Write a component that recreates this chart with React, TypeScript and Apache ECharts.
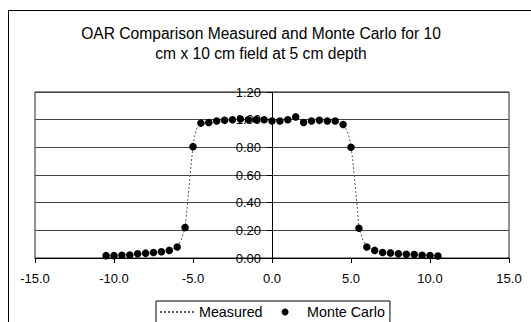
import React, { useEffect, useRef } from "react";
import * as echarts from "echarts";

const titleLines = [
  "OAR Comparison Measured and Monte Carlo for 10",
  "cm x 10 cm field at 5 cm depth",
];

const mcX = [
  -10.5, -10, -9.5, -9, -8.5, -8, -7.5, -7, -6.5, -6, -5.5, -5, -4.5, -4, -3.5, -3, -2.5, -2, -1.5, -1, -0.5,
  0, 0.5, 1, 1.5, 2, 2.5, 3, 3.5, 4, 4.5, 5, 5.5, 6, 6.5, 7, 7.5, 8, 8.5, 9, 9.5, 10, 10.5,
];
const mcY = [
  0.017, 0.017, 0.02, 0.022, 0.03, 0.035, 0.04, 0.045, 0.055, 0.08, 0.22, 0.805, 0.975, 0.98, 0.99, 0.995, 1.0, 1.005, 1.0, 1.0, 1.0,
  0.99, 0.99, 1.0, 1.02, 0.98, 0.99, 0.995, 0.99, 0.99, 0.965, 0.8, 0.215, 0.08, 0.055, 0.04, 0.037, 0.03, 0.027, 0.025, 0.02, 0.018, 0.015,
];

const measuredX = [
  -10.5, -10, -9.5, -9, -8.5, -8, -7.5, -7, -6.5, -6, -5.75, -5.5, -5.4, -5.3, -5.2, -5.1, -5.0, -4.9, -4.75, -4.5,
  -4, -3.5, -3, -2.5, -2, -1.5, -1, -0.5, 0, 0.5, 1, 1.5, 2, 2.5, 3, 3.5, 4,
  4.5, 4.75, 4.9, 5.0, 5.1, 5.2, 5.3, 5.4, 5.5, 5.75, 6, 6.5, 7, 7.5, 8, 8.5, 9, 9.5, 10, 10.5,
];
const measuredY = [
  0.015, 0.017, 0.02, 0.022, 0.028, 0.033, 0.04, 0.045, 0.055, 0.08, 0.13, 0.22, 0.33, 0.45, 0.58, 0.7, 0.8, 0.88, 0.94, 0.975,
  0.98, 0.99, 0.995, 1.0, 1.0, 1.0, 1.0, 1.0, 0.995, 0.99, 1.0, 1.01, 0.99, 0.99, 0.995, 0.99, 0.985,
  0.965, 0.92, 0.87, 0.8, 0.72, 0.6, 0.48, 0.36, 0.22, 0.13, 0.08, 0.055, 0.04, 0.037, 0.03, 0.027, 0.025, 0.02, 0.018, 0.015,
];

const seriesNames = ["Measured", "Monte Carlo"];

const FONT = "'Liberation Sans', Arial, sans-serif";

const GRID_LEFT = 35;
const GRID_RIGHT = 22;
const W = 531;

export default function App() {
  const ref = useRef<HTMLDivElement>(null);
  useEffect(() => {
    if (!ref.current) return;
    const chart = echarts.init(ref.current, undefined, { renderer: "svg" });
    const gridW = W - GRID_LEFT - GRID_RIGHT;
    chart.setOption({
      animation: false,
      backgroundColor: "#fff",
      textStyle: { fontFamily: FONT },
      title: {
        text: titleLines.join("\n"),
        left: 256,
        top: 18,
        textAlign: "center",
        textStyle: { fontSize: 15.6, fontWeight: "normal", color: "#000", lineHeight: 20, fontFamily: FONT },
      },
      graphic: [
        {
          type: "rect",
          shape: { x: 8.5, y: 10.5, width: 700, height: 500 },
          style: { fill: "none", stroke: "#000", lineWidth: 1 },
          silent: true,
          z: -1,
        },
      ],
      legend: {
        left: 156,
        top: 301,
        padding: [4, 5, 30, 3],
        itemGap: 19,
        itemWidth: 34,
        itemHeight: 7,
        borderColor: "#000",
        borderWidth: 1,
        textStyle: { fontSize: 14.3, color: "#000", fontFamily: FONT },
        data: [
          { name: seriesNames[0], itemStyle: { opacity: 0 } },
          { name: seriesNames[1] },
        ],
      },
      grid: { left: GRID_LEFT, right: GRID_RIGHT, top: 92, bottom: 64, show: true, borderColor: "#222", borderWidth: 1, containLabel: false },
      xAxis: {
        type: "value",
        min: -15,
        max: 15,
        interval: 5,
        axisLine: { show: true, onZero: false, lineStyle: { color: "#000", width: 1 } },
        axisTick: { show: true, length: 5, inside: false, lineStyle: { color: "#000" } },
        axisLabel: { color: "#000", fontSize: 13, margin: 14, formatter: (v: number) => v.toFixed(1), fontFamily: FONT },
        splitLine: { show: false },
      },
      yAxis: {
        type: "value",
        min: 0,
        max: 1.2,
        interval: 0.2,
        offset: -gridW / 2,
        axisLine: { show: true, onZero: false, lineStyle: { color: "#000", width: 1 } },
        axisTick: { show: true, length: 5, inside: false, lineStyle: { color: "#000" } },
        axisLabel: { color: "#000", fontSize: 13, margin: 11, formatter: (v: number) => v.toFixed(2), fontFamily: FONT },
        splitLine: { show: true, lineStyle: { color: "#444", width: 1 } },
      },
      series: [
        {
          name: seriesNames[0],
          type: "line",
          data: measuredX.map((x, i) => [x, measuredY[i]]),
          showSymbol: false,
          symbol: "none",
          lineStyle: { color: "#555", width: 1, type: [2, 2] },
          itemStyle: { color: "#555" },
          z: 2,
        },
        {
          name: seriesNames[1],
          type: "scatter",
          data: mcX.map((x, i) => [x, mcY[i]]),
          symbol: "circle",
          symbolSize: 7.5,
          itemStyle: { color: "#000", opacity: 1 },
          z: 3,
        },
      ],
    });
    return () => chart.dispose();
  }, []);
  return (
    <div style={{ position: "fixed", left: 0, top: 0, width: W, height: 322, background: "#fff" }}>
      <div ref={ref} style={{ width: W, height: 322 }} />
    </div>
  );
}
